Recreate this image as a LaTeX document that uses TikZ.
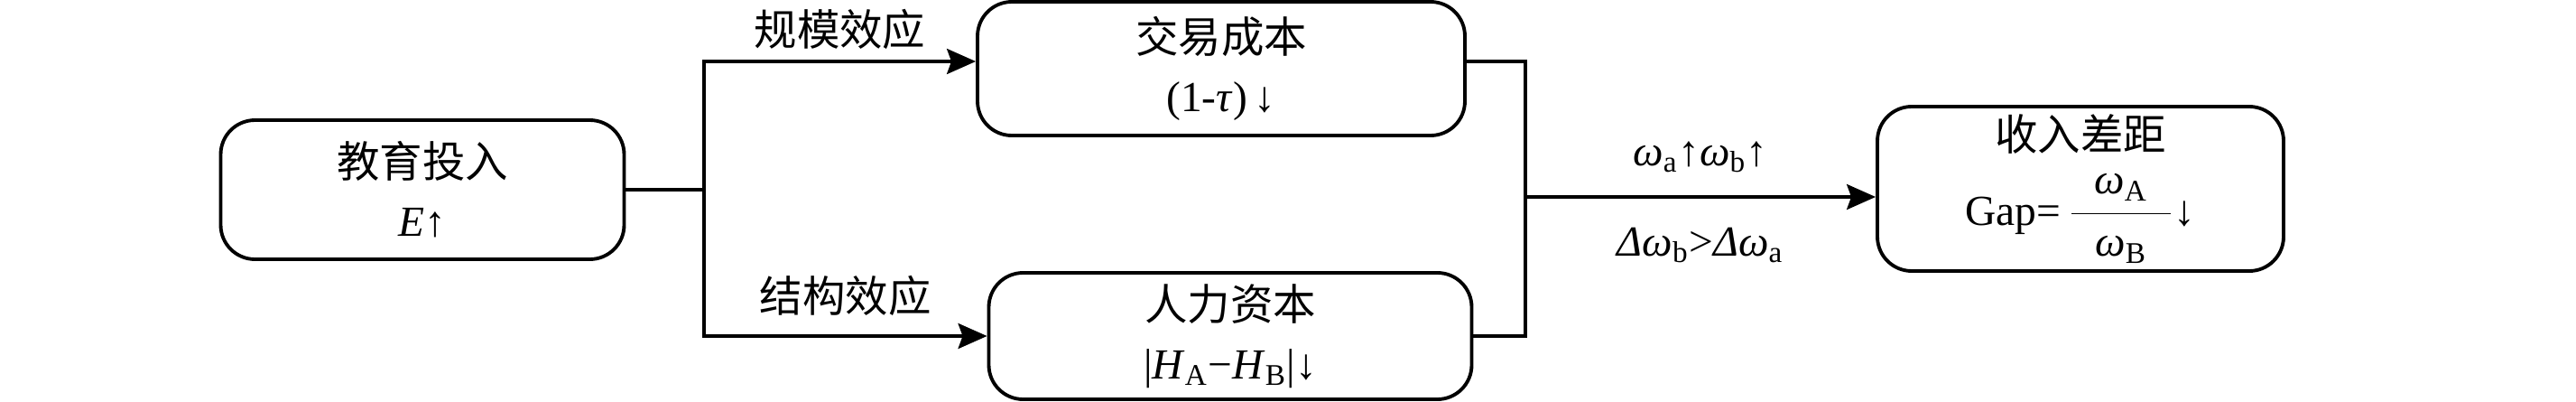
\documentclass[tikz,border=0pt]{standalone}
\usepackage{fontspec}
\setmainfont{Liberation Serif}
\newfontfamily\cjk{Noto Sans CJK SC}
\usetikzlibrary{arrows.meta,positioning}
\newcommand{\om}{\textit{ω}}
\newcommand{\sbs}[1]{\textsubscript{#1}}

\begin{document}
\begin{tikzpicture}
  \tikzstyle{box}=[draw=black,line width=1.1pt,rounded corners=0.38cm,align=center,
    inner sep=0pt,font=\fontsize{13.5}{18.5}\selectfont]
  \tikzstyle{lbl}=[inner sep=0pt,font=\fontsize{13.5}{16}\selectfont]
  \tikzstyle{ln}=[line width=1pt]
  \tikzstyle{f}=[-{Stealth[length=0.32cm,width=0.28cm,inset=0.05cm]},line width=1pt]
  \useasboundingbox (0,0) rectangle (28.54,4.44);

  \node[box,minimum width=4.47cm,minimum height=1.54cm] (edu) at (4.68,2.34) {{\cjk 教育投入}\\ \textit{E}↑};
  \node[box,minimum width=5.40cm,minimum height=1.48cm] (cost) at (13.53,3.68) {{\cjk 交易成本}\\ (1-\textit{τ})\,↓};
  \node[box,minimum width=5.35cm,minimum height=1.40cm] (hum) at (13.63,0.72) {{\cjk 人力资本}\\ |\textit{H}\sbs{A}−\textit{H}\sbs{B}|↓};
  \node[box,minimum width=4.50cm,minimum height=1.82cm] (gap) at (23.05,2.35) {{\cjk 收入差距}\\[5pt] Gap=\,$\displaystyle\frac{\mbox{\hspace{0.25cm}\om\sbs{A}\hspace{0.25cm}}}{\mbox{\hspace{0.25cm}\om\sbs{B}\hspace{0.25cm}}}$↓};

  \coordinate (jl) at (7.80,2.34);
  \coordinate (jr) at (16.90,2.26);

  \draw[ln] (edu.east) -- (jl);
  \draw[f] (jl) |- ([yshift=0.08cm]cost.west) node[pos=0.75,above=0.12cm,lbl] {\cjk 规模效应};
  \draw[f] (jl) |- (hum.west) node[pos=0.75,above=0.21cm,lbl] {\cjk 结构效应};
  \draw[ln] ([yshift=0.08cm]cost.east) -| (jr);
  \draw[ln] (hum.east) -| (jr);
  \draw[f] (jr) -- (jr -| gap.west)
    node[midway,above=0.25cm,lbl] {\om\sbs{a}↑\om\sbs{b}↑}
    node[midway,below=0.32cm,lbl] {\textit{Δω}\sbs{b}>\textit{Δω}\sbs{a}};
\end{tikzpicture}
\end{document}
